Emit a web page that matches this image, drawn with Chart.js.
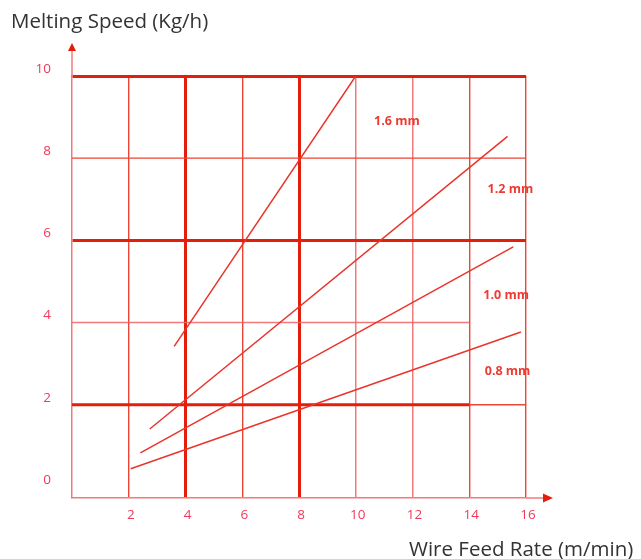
<!DOCTYPE html>
<html>
<head>
<meta charset="utf-8">
<script src="https://cdn.jsdelivr.net/npm/chart.js@4.4.1/dist/chart.umd.min.js"></script>
<style>
  body { margin: 0; background: #fff; }
  canvas { display: block; }
</style>
</head>
<body>
<canvas id="myChart" width="641" height="559"></canvas>
<script>
// wire diameters and the two end points read for each straight line
var wireSizes = ['1.6 mm', '1.2 mm', '1.0 mm', '0.8 mm']
var feed16 = [3.6, 10.0]
var speed16 = [3.42, 10.0]
var feed12 = [2.74, 15.35]
var speed12 = [1.41, 8.53]
var feed10 = [2.41, 15.55]
var speed10 = [0.83, 5.84]
var feed08 = [2.07, 15.82]
var speed08 = [0.44, 3.77]

var xTicks = [2, 4, 6, 8, 10, 12, 14, 16]
var yTicks = [0, 2, 4, 6, 8, 10]

// where the size labels sit, in chart units
var labelFeed = [11.45, 15.45, 15.3, 15.35]
var labelSpeed = [8.9, 7.25, 4.65, 2.82]

var RED = '#e31e0b'
var MID = '#ec4536'
var LIGHT = 'rgba(238,100,100,0.85)'
var TXT = '#f0385a'

function pts(xs, ys) {
    return xs.map(function (x, i) { return { x: x, y: ys[i] } })
}

function gridStyle(v, axis) {
    if (axis == 'y') {
        if (v == 10 || v == 6) return [RED, 3]
        return ['rgba(0,0,0,0)', 0]   // 8, 4, 2 drawn by the plugin (they stop short)
    }
    if (v == 4 || v == 8) return [RED, 3]
    if (v == 10 || v == 12) return [LIGHT, 1.5]
    return [MID, 1.4]
}

var decor = {
    id: 'decor',
    beforeDatasetsDraw: function (chart) {
        var ctx = chart.ctx
        var xs = chart.scales.x
        var ys = chart.scales.y
        var l = chart.chartArea.left
        ctx.save()
        function hline(v, x1, x2, col, w) {
            var y = ys.getPixelForValue(v)
            ctx.strokeStyle = col
            ctx.lineWidth = w
            ctx.beginPath()
            ctx.moveTo(l, y)
            ctx.lineTo(xs.getPixelForValue(x2), y)
            ctx.stroke()
        }
        hline(8, 0, 16, MID, 1.3)
        hline(4, 0, 14, LIGHT, 1.5)
        hline(2, 0, 16, MID, 1.4)
        hline(2, 0, 14, RED, 3)
        ctx.restore()
    },
    afterDraw: function (chart) {
        var ctx = chart.ctx
        var a = chart.chartArea
        var xs = chart.scales.x
        var ys = chart.scales.y
        ctx.save()
        // axis arrows
        ctx.strokeStyle = LIGHT
        ctx.lineWidth = 1.5
        ctx.beginPath()
        ctx.moveTo(a.left, a.top)
        ctx.lineTo(a.left, 50)
        ctx.moveTo(a.right, a.bottom)
        ctx.lineTo(545, a.bottom)
        ctx.stroke()
        ctx.fillStyle = RED
        ctx.beginPath()
        ctx.moveTo(a.left, 43)
        ctx.lineTo(a.left - 4, 51)
        ctx.lineTo(a.left + 4, 51)
        ctx.closePath()
        ctx.fill()
        ctx.beginPath()
        ctx.moveTo(553, a.bottom)
        ctx.lineTo(543, a.bottom - 4.5)
        ctx.lineTo(543, a.bottom + 4.5)
        ctx.closePath()
        ctx.fill()
        // axis titles
        ctx.fillStyle = '#333'
        ctx.font = '20.5px "Open Sans"'
        ctx.textBaseline = 'middle'
        ctx.textAlign = 'left'
        ctx.fillText('Melting Speed (Kg/h)', 11, 22)
        ctx.fillText('Wire Feed Rate (m/min)', 409, 550)
        // size labels
        ctx.fillStyle = '#ee3a30'
        ctx.font = 'bold 12.5px "Open Sans"'
        ctx.textAlign = 'center'
        wireSizes.forEach(function (s, i) {
            ctx.fillText(s, xs.getPixelForValue(labelFeed[i]), ys.getPixelForValue(labelSpeed[i]))
        })
        ctx.restore()
    }
}

function lineSet(xs, ys) {
    return {
        data: pts(xs, ys),
        borderColor: '#e8352c',
        borderWidth: 1.5,
        pointRadius: 0,
        fill: false,
        tension: 0
    }
}

new Chart('myChart', {
    type: 'line',
    data: {
        datasets: [
            lineSet(feed16, speed16),
            lineSet(feed12, speed12),
            lineSet(feed10, speed10),
            lineSet(feed08, speed08)
        ]
    },
    options: {
        responsive: false,
        animation: false,
        layout: { padding: { left: 0, right: 115, top: 76, bottom: 0 } },
        plugins: { legend: { display: false }, tooltip: { enabled: false } },
        scales: {
            x: {
                type: 'linear',
                min: 0,
                max: 16,
                afterFit: function (s) { s.height = 61 },
                afterBuildTicks: function (s) { s.ticks = xTicks.map(function (v) { return { value: v } }) },
                border: { color: LIGHT, width: 1.5 },
                grid: {
                    drawTicks: false,
                    color: function (c) { return gridStyle(c.tick.value, 'x')[0] },
                    lineWidth: function (c) { return gridStyle(c.tick.value, 'x')[1] }
                },
                ticks: {
                    padding: 9,
                    labelOffset: 2,
                    color: TXT,
                    font: { family: 'Open Sans', size: 13.5 }
                }
            },
            y: {
                min: -0.27,
                max: 10,
                afterFit: function (s) { s.width = 72 },
                afterBuildTicks: function (s) { s.ticks = yTicks.map(function (v) { return { value: v } }) },
                border: { color: LIGHT, width: 1.5 },
                grid: {
                    drawTicks: false,
                    color: function (c) { return gridStyle(c.tick.value, 'y')[0] },
                    lineWidth: function (c) { return gridStyle(c.tick.value, 'y')[1] }
                },
                ticks: {
                    padding: 21,
                    labelOffset: -7,
                    color: TXT,
                    font: { family: 'Open Sans', size: 13.5 }
                }
            }
        }
    },
    plugins: [decor]
})
</script>
</body>
</html>
